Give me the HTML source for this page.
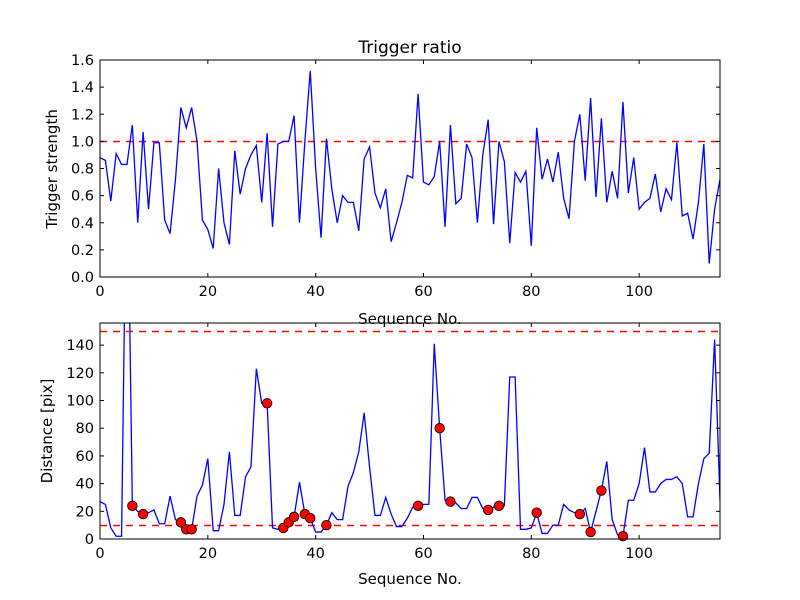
<!DOCTYPE html>
<html><head><meta charset="utf-8"><style>
body{margin:0;background:#fff;}
svg{display:block;font-family:"DejaVu Sans","Liberation Sans",sans-serif;}
</style></head><body>
<svg id="chart" width="800" height="600"></svg>
<script>
const ratioValues=[0.88,0.86,0.56,0.91,0.83,0.83,1.12,0.40,1.07,0.50,0.99,0.99,0.42,0.32,0.72,1.25,1.10,1.25,1.00,0.42,0.35,0.21,0.80,0.40,0.24,0.93,0.61,0.80,0.90,0.97,0.55,1.06,0.37,0.98,1.00,1.00,1.19,0.40,1.00,1.52,0.80,0.29,1.02,0.65,0.40,0.60,0.55,0.55,0.34,0.87,0.96,0.62,0.51,0.65,0.26,0.40,0.55,0.75,0.73,1.35,0.70,0.68,0.74,1.00,0.37,1.12,0.54,0.58,0.98,0.88,0.40,0.90,1.16,0.39,1.00,0.85,0.25,0.77,0.70,0.78,0.23,1.10,0.72,0.87,0.70,0.92,0.58,0.43,1.00,1.20,0.71,1.32,0.59,1.17,0.55,0.78,0.58,1.29,0.62,0.88,0.50,0.55,0.58,0.76,0.48,0.65,0.57,0.99,0.45,0.47,0.28,0.55,0.98,0.10,0.50,0.72];
const distValues=[27,25,8,2,2,300,24,20,18,19,21,11,11,31,14,12,7,7,31,39,58,6,6,25,63,17,17,45,52,123,98,98,8,7,8,12,16,41,18,15,5,5,10,19,14,14,38,48,63,91,52,17,17,30,18,9,9,15,23,24,25,25,141,80,28,27,26,22,22,30,30,22,21,23,24,24,117,117,7,7,8,19,4,4,10,10,25,21,19,18,22,5,20,35,56,14,3,2,28,28,40,66,34,34,40,43,43,45,40,16,16,40,58,62,144,28];
const markerIdx=[6,8,15,16,17,31,34,35,36,38,39,42,59,63,65,72,74,81,89,91,93,97];
const topThreshold=[1.0];
const bottomThresholds=[10,150];
const xTicks=[0,20,40,60,80,100];
const topYTicks=[0,0.2,0.4,0.6,0.8,1.0,1.2,1.4,1.6];
const bottomYTicks=[0,20,40,60,80,100,120,140];

const NS="http://www.w3.org/2000/svg";
const svg=document.getElementById('chart');
function mk(tag,attrs,parent){const e=document.createElementNS(NS,tag);for(const k in attrs)e.setAttribute(k,attrs[k]);(parent||svg).appendChild(e);return e;}
const L=100,R=720;
const xs=v=>L+(v/115)*(R-L);
const T1=60,B1=277,T2=323,B2=539;
const y1=v=>B1-(v/1.6)*(B1-T1);
const y2=v=>B2-(v/156)*(B2-T2);

function axes(T,B,yScale,yTicks,fmt,prefix){
  const g=mk('g',{});
  
  
  xTicks.forEach(t=>{
    const x=xs(t);
    mk('line',{x1:x,x2:x,y1:B,y2:B-4,stroke:'#000'},g);
    mk('line',{x1:x,x2:x,y1:T,y2:T+4,stroke:'#000'},g);
    const tx=mk('text',{x:x,y:B+19,'text-anchor':'middle','font-size':'14.5'},g);tx.textContent=t;
    
    
  });
  yTicks.forEach(t=>{
    const y=yScale(t);
    mk('line',{x1:L,x2:L+4,y1:y,y2:y,stroke:'#000'},g);
    mk('line',{x1:R,x2:R-4,y1:y,y2:y,stroke:'#000'},g);
    const tx=mk('text',{x:L-6,y:y+5,'text-anchor':'end','font-size':'14.5'},g);tx.textContent=fmt(t);
    
    
  });
}
function frame(T,B,name){const r=mk('rect',{x:L,y:T,width:R-L,height:B-T,fill:'none',stroke:'#000','stroke-width':1});
  }
function clip(id,T,B){const c=mk('clipPath',{id:id});mk('rect',{x:L,y:T,width:R-L,height:B-T},c);}
clip('c1',T1,B1);clip('c2',T2,B2);

// top plot
topThreshold.forEach(v=>{const y=Math.round(y1(v))+0.5;const l=mk('line',{x1:L,x2:R,y1:y,y2:y,stroke:'#ff0000','stroke-width':1.6,'stroke-dasharray':'7,6'});
  });
const p1=mk('polyline',{points:ratioValues.map((v,i)=>xs(i)+','+y1(v)).join(' '),fill:'none',stroke:'#00f','stroke-width':1.3,'clip-path':'url(#c1)'});


frame(T1,B1,'top-plot-frame');
axes(T1,B1,y1,topYTicks,t=>t.toFixed(1),'top');

// bottom plot
bottomThresholds.forEach(v=>{const y=Math.round(y2(v))+0.5;const l=mk('line',{x1:L,x2:R,y1:y,y2:y,stroke:'#ff0000','stroke-width':1.6,'stroke-dasharray':'7,6'});
  });
const p2=mk('polyline',{points:distValues.map((v,i)=>xs(i)+','+y2(v)).join(' '),fill:'none',stroke:'#00f','stroke-width':1.3,'clip-path':'url(#c2)'});


markerIdx.forEach(i=>{const c=mk('circle',{cx:xs(i),cy:y2(distValues[i]),r:4.8,fill:'#f00',stroke:'#000','stroke-width':0.8});
  });
frame(T2,B2,'bottom-plot-frame');
axes(T2,B2,y2,bottomYTicks,t=>t,'bottom');

// labels
function txt(s,attrs,name){const t=mk('text',attrs);t.textContent=s;}
txt('Trigger ratio',{x:410,y:53,'text-anchor':'middle','font-size':'17'},'top-title');
txt('Sequence No.',{x:410,y:324,'text-anchor':'middle','font-size':'15'},'top-x-axis-title');
txt('Trigger strength',{x:57,y:169,'text-anchor':'middle','font-size':'15',transform:'rotate(-90 57 169)'},'top-y-axis-title');
txt('Sequence No.',{x:410,y:584,'text-anchor':'middle','font-size':'15'},'bottom-x-axis-title');
txt('Distance [pix]',{x:52,y:431,'text-anchor':'middle','font-size':'15',transform:'rotate(-90 52 431)'},'bottom-y-axis-title');
</script>
</body></html>
